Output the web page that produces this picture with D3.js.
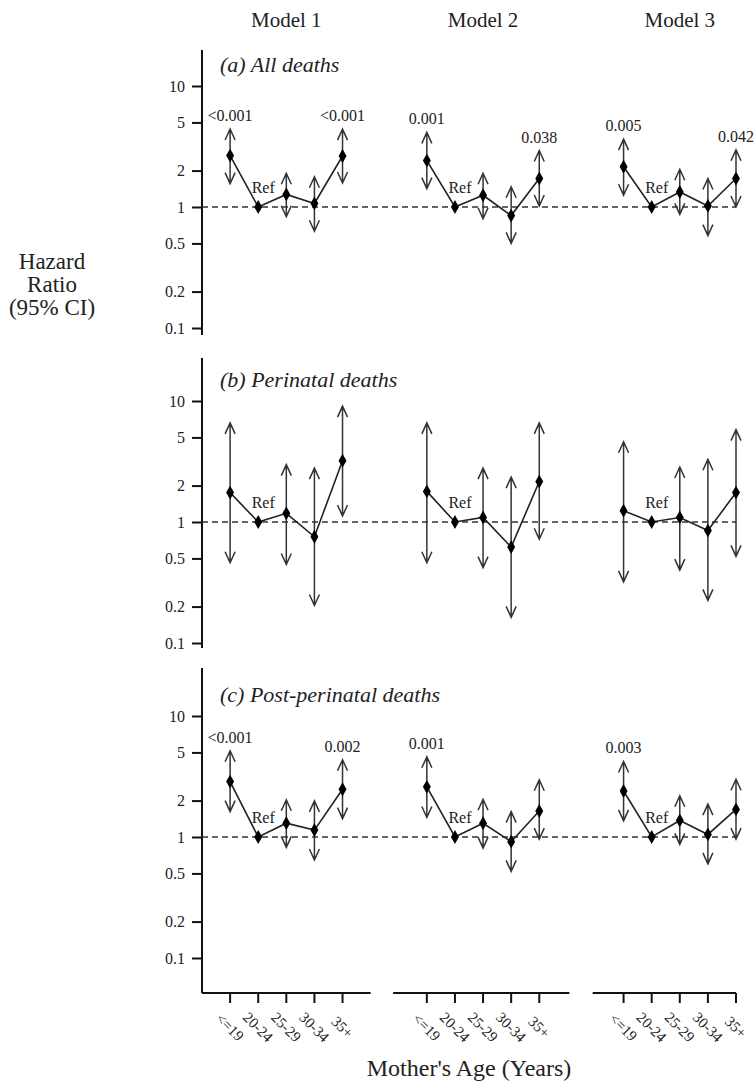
<!DOCTYPE html>
<html>
<head>
<meta charset="utf-8">
<script src="https://cdn.jsdelivr.net/npm/d3@7"></script>
<style>
  body { margin: 0; background: #fff; }
  text { font-family: "Liberation Serif", "DejaVu Serif", serif; fill: #222; }
</style>
</head>
<body>
<script>
// chart data
var ageGroups = ["<=19", "20-24", "25-29", "30-34", "35+"];
var models = ["Model 1", "Model 2", "Model 3"];
var panelTitles = ["(a) All deaths", "(b) Perinatal deaths", "(c) Post-perinatal deaths"];
var yTicks = [0.1, 0.2, 0.5, 1, 2, 5, 10];

// hazard ratios [model][age]
var hrAll  = [[2.66, 1, 1.27, 1.07, 2.64], [2.42, 1, 1.25, 0.85, 1.72], [2.15, 1, 1.33, 1.02, 1.72]];
var loAll  = [[1.56, null, 0.83, 0.63, 1.58], [1.42, null, 0.80, 0.50, 1.02], [1.25, null, 0.87, 0.58, 1.00]];
var hiAll  = [[4.41, null, 1.90, 1.78, 4.40], [4.14, null, 1.90, 1.47, 2.93], [3.64, null, 2.05, 1.72, 2.97]];
var pAll   = [["<0.001", "", "", "", "<0.001"], ["0.001", "", "", "", "0.038"], ["0.005", "", "", "", "0.042"]];

var hrPeri = [[1.75, 1, 1.18, 0.755, 3.21], [1.79, 1, 1.09, 0.62, 2.16], [1.24, 1, 1.09, 0.85, 1.75]];
var loPeri = [[0.46, null, 0.445, 0.204, 1.12], [0.46, null, 0.42, 0.163, 0.72], [0.32, null, 0.40, 0.225, 0.52]];
var hiPeri = [[6.6, null, 2.98, 2.79, 9.08], [6.6, null, 2.79, 2.35, 6.6], [4.6, null, 2.85, 3.3, 5.8]];
var pPeri  = [["", "", "", "", ""], ["", "", "", "", ""], ["", "", "", "", ""]];

var hrPost = [[2.87, 1, 1.30, 1.14, 2.48], [2.60, 1, 1.30, 0.915, 1.64], [2.40, 1, 1.37, 1.05, 1.69]];
var loPost = [[1.62, null, 0.82, 0.645, 1.42], [1.45, null, 0.81, 0.52, 0.96], [1.36, null, 0.87, 0.60, 0.96]];
var hiPost = [[5.16, null, 2.03, 1.99, 4.35], [4.6, null, 2.05, 1.62, 2.97], [4.21, null, 2.19, 1.87, 3.00]];
var pPost  = [["<0.001", "", "", "", "0.002"], ["0.001", "", "", "", ""], ["0.003", "", "", "", ""]];

var panels = [
    {title: panelTitles[0], hr: hrAll, lo: loAll, hi: hiAll, p: pAll},
    {title: panelTitles[1], hr: hrPeri, lo: loPeri, hi: hiPeri, p: pPeri},
    {title: panelTitles[2], hr: hrPost, lo: loPost, hi: hiPost, p: pPost}
];

// layout
var W = 755, H = 1086;
var SLOTS = 7;                 // 5 ages + 2 gap slots per model
var REF_Y = [207, 522, 837];   // y of HR = 1 in each panel
var HALF_DECADES = 121;
var AXIS_TOP = [50, 358, 668];
var AXIS_BOTTOM = [335, 648, 993];
var XAXIS_Y = 993;
var INK = "#222";

var svg = d3.select("body").append("svg")
    .attr("width", W)
    .attr("height", H);

var x = d3.scaleLinear().domain([0, 19]).range([202, 736]);
function slot(m, i) { return m * SLOTS + i + 1; }

// model titles
svg.selectAll("text.model")
    .data(models)
    .enter().append("text")
        .attr("class", "model")
        .attr("x", function (d, m) { return x(slot(m, 2)); })
        .attr("y", 27)
        .attr("text-anchor", "middle")
        .style("font-size", "21px")
        .text(function (d) { return d; });

// y axis title
svg.append("text")
    .attr("text-anchor", "middle")
    .style("font-size", "23px")
    .selectAll("tspan")
    .data(["Hazard", "Ratio", "(95% CI)"])
    .enter().append("tspan")
        .attr("x", 52)
        .attr("y", function (d, i) { return 269 + i * 23; })
        .text(function (d) { return d; });

function arrowHead(px, py, dir) {
    // open V head, dir = -1 pointing up, 1 pointing down
    return "M" + (px - 5) + "," + (py - dir * 11) + "L" + px + "," + py + "L" + (px + 5) + "," + (py - dir * 11);
}

panels.forEach(function (panel, k) {
    var c = REF_Y[k];
    var y = d3.scaleLog().domain([0.1, 10]).range([c + HALF_DECADES, c - HALF_DECADES]);
    var g = svg.append("g");

    // y axis
    g.append("line")
        .attr("x1", x(0)).attr("x2", x(0))
        .attr("y1", AXIS_TOP[k]).attr("y2", AXIS_BOTTOM[k])
        .attr("stroke", "#111").attr("stroke-width", 2);

    var yAxis = d3.axisLeft(y)
        .tickValues(yTicks)
        .tickSize(10)
        .tickPadding(7)
        .tickFormat(d3.format("~g"));
    var ya = g.append("g")
        .attr("transform", "translate(" + x(0) + ",0)")
        .call(yAxis);
    ya.select(".domain").remove();
    ya.selectAll(".tick line").attr("stroke", "#111").attr("stroke-width", 2);
    ya.selectAll(".tick text")
        .style("font-family", "'Liberation Serif', serif")
        .style("font-size", "16px")
        .attr("fill", INK);

    // reference line at HR = 1
    g.append("line")
        .attr("x1", x(0)).attr("x2", x(19))
        .attr("y1", y(1)).attr("y2", y(1))
        .attr("stroke", "#333").attr("stroke-width", 1.4)
        .attr("stroke-dasharray", "6,4");

    // panel title
    g.append("text")
        .attr("x", 220)
        .attr("y", c - 135)
        .style("font-size", "22px")
        .style("font-style", "italic")
        .text(panel.title);

    models.forEach(function (mName, m) {
        var pts = ageGroups.map(function (a, i) {
            return {i: i, hr: panel.hr[m][i], lo: panel.lo[m][i], hi: panel.hi[m][i], p: panel.p[m][i]};
        });

        // confidence interval arrows
        var ci = pts.filter(function (d) { return d.lo !== null; });
        g.selectAll("path.ci" + m)
            .data(ci)
            .enter().append("path")
                .attr("class", "ci" + m)
                .attr("fill", "none")
                .attr("stroke", "#333")
                .attr("stroke-width", 1.5)
                .attr("d", function (d) {
                    var px = x(slot(m, d.i));
                    return "M" + px + "," + y(d.lo) + "L" + px + "," + y(d.hi) +
                        arrowHead(px, y(d.hi), -1) + arrowHead(px, y(d.lo), 1);
                });

        // connecting line
        var line = d3.line()
            .x(function (d) { return x(slot(m, d.i)); })
            .y(function (d) { return y(d.hr); });
        g.append("path")
            .datum(pts)
            .attr("fill", "none")
            .attr("stroke", "#222")
            .attr("stroke-width", 1.6)
            .attr("d", line);

        // diamonds
        g.selectAll("path.pt" + m)
            .data(pts)
            .enter().append("path")
                .attr("class", "pt" + m)
                .attr("d", d3.symbol().type(d3.symbolDiamond).size(55))
                .attr("transform", function (d) {
                    return "translate(" + x(slot(m, d.i)) + "," + y(d.hr) + ")";
                })
                .attr("fill", "#000");

        // Ref label
        g.append("text")
            .attr("x", x(slot(m, 1)) + 5)
            .attr("y", y(1) - 14)
            .attr("text-anchor", "middle")
            .style("font-size", "16px")
            .text("Ref");

        // p values
        g.selectAll("text.p" + m)
            .data(pts.filter(function (d) { return d.p; }))
            .enter().append("text")
                .attr("class", "p" + m)
                .attr("x", function (d) { return x(slot(m, d.i)); })
                .attr("y", function (d) { return y(d.hi) - 8; })
                .attr("text-anchor", "middle")
                .style("font-size", "16px")
                .text(function (d) { return d.p; });
    });
});

// broken x axis, one piece per model
var segments = [[0, 6], [6.8, 13.07], [13.9, 19]];
svg.selectAll("line.xseg")
    .data(segments)
    .enter().append("line")
        .attr("class", "xseg")
        .attr("x1", function (d) { return x(d[0]); })
        .attr("x2", function (d) { return x(d[1]); })
        .attr("y1", XAXIS_Y).attr("y2", XAXIS_Y)
        .attr("stroke", "#111").attr("stroke-width", 2);

models.forEach(function (mName, m) {
    var xa = svg.append("g");
    xa.selectAll("line")
        .data(ageGroups)
        .enter().append("line")
            .attr("x1", function (d, i) { return x(slot(m, i)); })
            .attr("x2", function (d, i) { return x(slot(m, i)); })
            .attr("y1", XAXIS_Y).attr("y2", XAXIS_Y + 10)
            .attr("stroke", "#111").attr("stroke-width", 2);
    xa.selectAll("text")
        .data(ageGroups)
        .enter().append("text")
            .attr("transform", function (d, i) {
                return "translate(" + x(slot(m, i)) + "," + (XAXIS_Y + 34) + ") rotate(45)";
            })
            .attr("text-anchor", "middle")
            .attr("dy", "0.35em")
            .style("font-size", "15px")
            .text(function (d) { return d; });
});

svg.append("text")
    .attr("x", x(9.5))
    .attr("y", 1076)
    .attr("text-anchor", "middle")
    .style("font-size", "24px")
    .text("Mother's Age (Years)");
</script>
</body>
</html>
